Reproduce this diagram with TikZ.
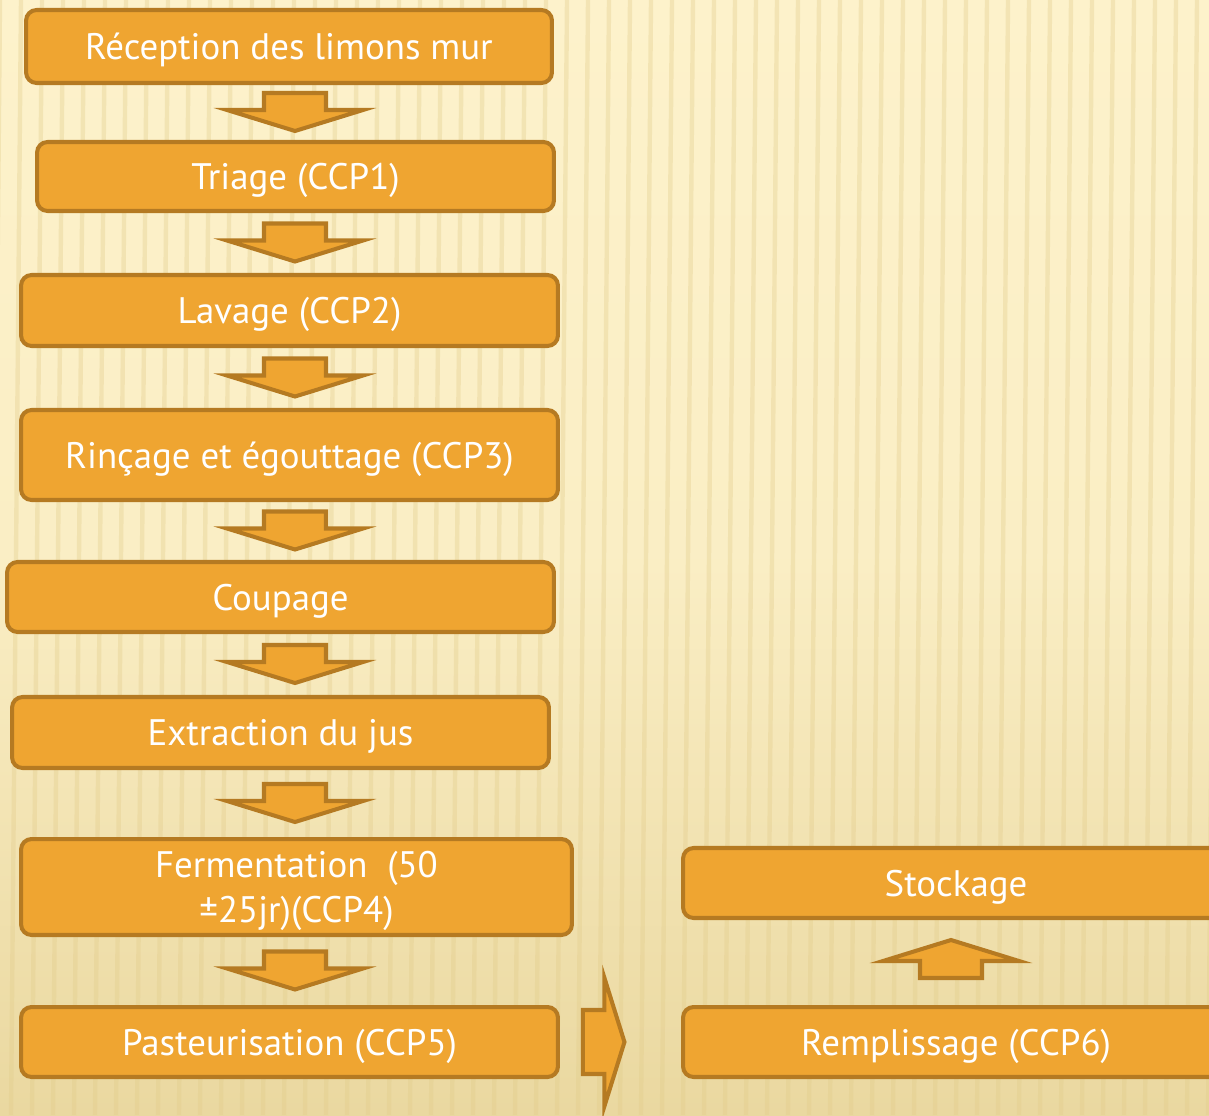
\documentclass[tikz,border=0pt]{standalone}
\usepackage{fontspec}
\setmainfont{PT Sans}
\usepackage{tikz}
\usetikzlibrary{calc}
\definecolor{StepOrange}{HTML}{EFA531}
\definecolor{StepEdge}{HTML}{B57A22}
\definecolor{PaperTop}{HTML}{FDF2CB}
\definecolor{PaperLow}{HTML}{EAD8A0}
\definecolor{StripeTan}{HTML}{E2CC8A}

\tikzset{
  stepbox/.style={draw=StepEdge, fill=StepOrange, line width=2.3pt, rounded corners=6pt,
    text=white, align=center, inner sep=0pt, text depth=0pt, font=\fontsize{21}{26}\selectfont},
  flowarrow/.style={draw=StepEdge, fill=StepOrange, line width=2.3pt, line join=miter},
  pics/downarrow/.style={code={
    \draw[flowarrow] (-31,-19.5) -- (31,-19.5) -- (31,-2.5) -- (68,-2.5) -- (0,18.5)
      -- (-68,-2.5) -- (-31,-2.5) -- cycle;
  }},
  pics/rightarrow/.style={code={
    \draw[flowarrow] (-21,-32) -- (0.5,-32) -- (0.5,-64) -- (20.5,0)
      -- (0.5,64) -- (0.5,32) -- (-21,32) -- cycle;
  }}
}

\begin{document}
\begin{tikzpicture}[x=0.02cm, y=-0.02cm]
  \useasboundingbox (0,0) rectangle (1209,1115);
  \clip (0,0) rectangle (1209,1115);
  % paper with stripes
  \shade[top color=PaperTop, bottom color=PaperLow, middle color=PaperTop!85!PaperLow]
    (0,0) rectangle (1209,1115);
  \foreach \x in {0,21,...,1230} {
    \draw[StripeTan, opacity=0.35, line width=2.5pt] (\x,0) -- (\x-10,1115);
  }

  % process steps
  \node[stepbox, minimum width=10.52cm, minimum height=1.46cm] (rec) at (289,46.5) {Réception des limons mur};
  \node[stepbox, minimum width=10.34cm, minimum height=1.38cm] (tri) at (295.5,176.5) {Triage (CCP1)};
  \node[stepbox, minimum width=10.74cm, minimum height=1.42cm] (lav) at (289.5,310.5) {Lavage (CCP2)};
  \node[stepbox, minimum width=10.74cm, minimum height=1.80cm] (rin) at (289.5,455) {Rinçage et égouttage (CCP3)};
  \node[stepbox, minimum width=10.94cm, minimum height=1.40cm] (cou) at (280.5,597) {Coupage};
  \node[stepbox, minimum width=10.74cm, minimum height=1.42cm] (ext) at (280.5,732.5) {Extraction du jus};
  \node[stepbox, minimum width=11.02cm, minimum height=1.92cm] (fer) at (296.5,887) {Fermentation~ (50\\ ±25jr)(CCP4)};
  \node[stepbox, minimum width=10.74cm, minimum height=1.40cm] (pas) at (289.5,1042) {Pasteurisation (CCP5)};
  \node[stepbox, minimum width=10.92cm, minimum height=1.40cm] (sto) at (956,883) {Stockage};
  \node[stepbox, minimum width=10.92cm, minimum height=1.40cm] (rem) at (956,1042) {Remplissage (CCP6)};

  % block arrows
  \coordinate (arrowline) at (295,0);
  \foreach \a/\b in {rec/tri, tri/lav, lav/rin, rin/cou, cou/ext, ext/fer, fer/pas} {
    \coordinate (m) at ($(\a.south)!.5!(\b.north)$);
    \pic at (m -| arrowline) {downarrow};
  }
  \pic at ($(pas.east)+(44,0)$) {rightarrow};
  \coordinate (m) at ($(rem.north)!.5!(sto.south)$);
  \pic[rotate=180] at ($(m)+(-5,-4)$) {downarrow};
\end{tikzpicture}
\end{document}
